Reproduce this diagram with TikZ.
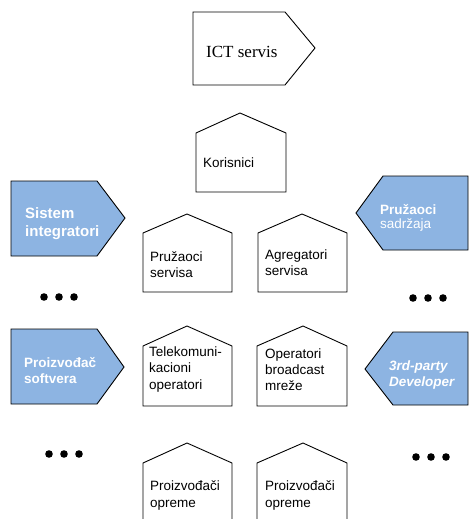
\documentclass[tikz,border=0pt]{standalone}
\usepackage{fontspec}
\setmainfont{Liberation Serif}
\newfontfamily\arialf{Liberation Sans}
\definecolor{pblue}{RGB}{141,180,226}
\tikzset{
  shp/.style={draw=black, line width=0.9pt, fill=white, line join=miter},
  bshp/.style={draw=black, line width=0.9pt, fill=pblue, line join=miter},
  lbl/.style={anchor=west, align=left, inner sep=0pt, font=\arialf\fontsize{13.5}{16.2}\selectfont},
  wlbl/.style={anchor=west, align=left, inner sep=0pt, text=white, font=\arialf\bfseries\fontsize{13.5}{16}\selectfont},
  dotm/.style={fill=black, draw=none},
}
\begin{document}
\begin{tikzpicture}[x=1pt,y=-1pt]
\useasboundingbox (0,0) rectangle (469,519);
\clip (0,0) rectangle (469,519);
% ICT servis
\draw[shp] (193,12) -- (285,12) -- (315,48) -- (285,85) -- (193,85) -- cycle;
\node[anchor=west, inner sep=0pt, font=\fontsize{17}{20}\selectfont] (ict) at (206,52) {ICT servis};
% Korisnici
\draw[shp] (196,192) -- (196,133) -- (240,113) -- (286,133) -- (286,192) -- cycle;
\node[lbl] (kor) at (203,163) {Korisnici};
% row 2
\draw[shp] (143,292) -- (143,233) -- (187,214) -- (232,233) -- (232,292) -- cycle;
\node[lbl] (ps) at (150,265) {Pružaoci\\servisa};
\draw[shp] (258,292) -- (258,233) -- (302,214) -- (347,233) -- (347,292) -- cycle;
\node[lbl] (as) at (265,263) {Agregatori\\servisa};
% row 3
\draw[shp] (143,406) -- (143,346) -- (187,326) -- (232,346) -- (232,406) -- cycle;
\node[lbl] (to) at (149,369.5) {Telekomuni-\\kacioni\\operatori};
\draw[shp] (257,406) -- (257,346) -- (303,326) -- (347,346) -- (347,406) -- cycle;
\node[lbl] (ob) at (265,369.5) {Operatori\\broadcast\\mreže};
% row 4
\draw[shp] (143,525) -- (143,463) -- (187,443) -- (232,463) -- (232,525) -- cycle;
\node[lbl] (po1) at (150,495.5) {Proizvođači\\opreme};
\draw[shp] (257,525) -- (257,463) -- (303,443) -- (347,463) -- (347,525) -- cycle;
\node[lbl] (po2) at (265,495.5) {Proizvođači\\opreme};
% blue shapes
\draw[bshp] (11,181) -- (97,181) -- (125,218) -- (97,256) -- (11,256) -- cycle;
\node[wlbl, font=\arialf\bfseries\fontsize{15}{18}\selectfont] (si) at (25,224) {Sistem\\integratori};
\draw[bshp] (356,213) -- (383,176) -- (468,176) -- (468,250) -- (383,250) -- cycle;
\node[wlbl, font=\arialf\fontsize{13.5}{14.5}\selectfont] (psd) at (380,218) {\textbf{Pružaoci}\\sadržaja};
\draw[bshp] (11,329) -- (97,329) -- (124,367) -- (97,404) -- (11,404) -- cycle;
\node[wlbl] (pso) at (24,371) {Proizvođač\\softvera};
\draw[bshp] (365,369) -- (393,332) -- (468,332) -- (468,405) -- (393,405) -- cycle;
\node[wlbl, font=\arialf\bfseries\itshape\fontsize{13.5}{16}\selectfont] (td) at (389,375) {3rd-party\\Developer};
% dots
\foreach \x in {44,59,74} \fill[dotm] (\x,297) circle (3.8);
\foreach \x in {413,428,443} \fill[dotm] (\x,298) circle (3.8);
\foreach \x in {49,64,79} \fill[dotm] (\x,454) circle (3.8);
\foreach \x in {416,431,446} \fill[dotm] (\x,457) circle (3.8);
\end{tikzpicture}
\end{document}
